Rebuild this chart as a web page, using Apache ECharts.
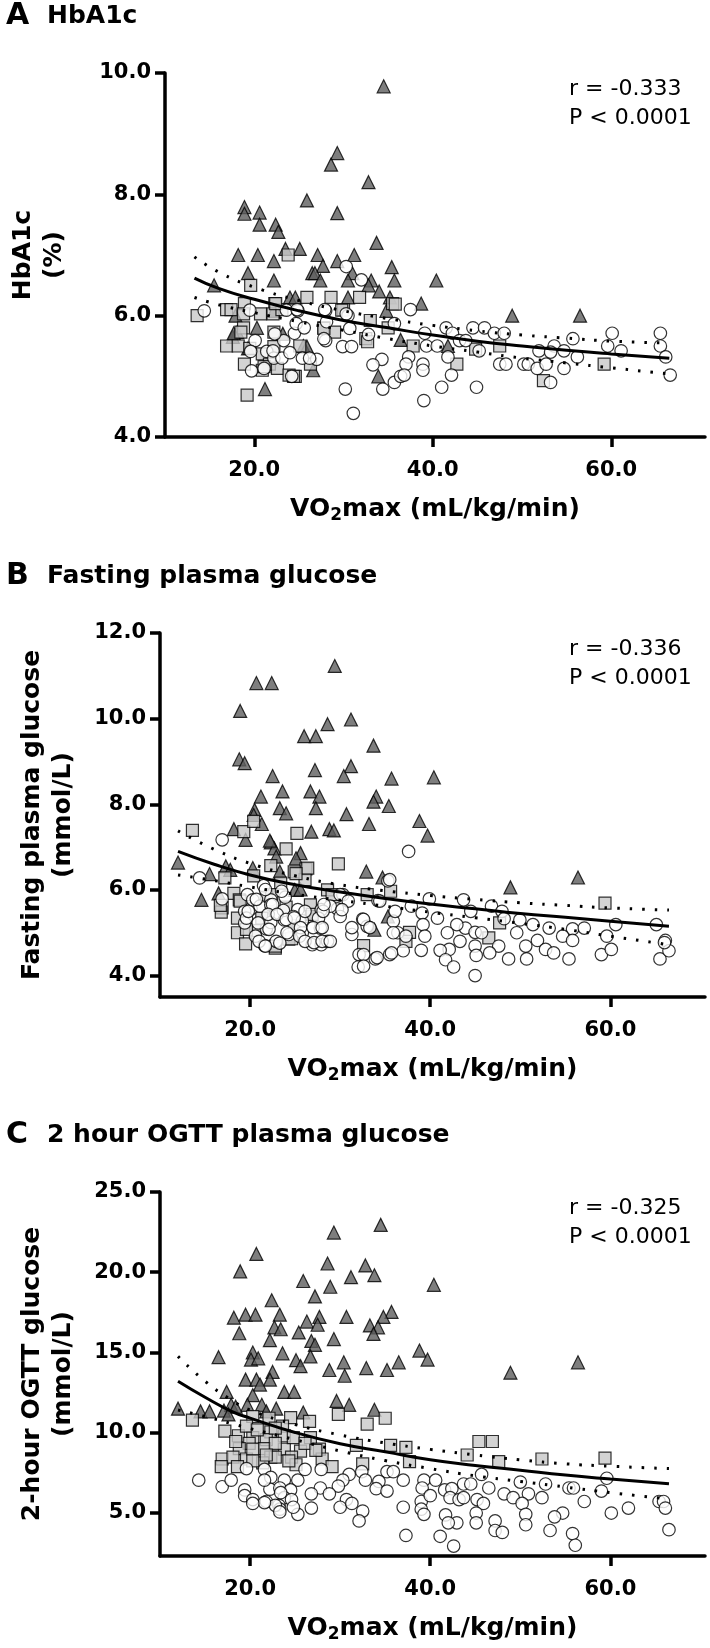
<!DOCTYPE html>
<html><head><meta charset="utf-8">
<script src="https://cdn.jsdelivr.net/npm/echarts@6/dist/echarts.min.js"></script>
<style>html,body{margin:0;padding:0;background:#fff}#c{width:710px;height:1648px}</style>
</head><body><div id="c"></div>
<script>
// ---------- Panel A: HbA1c ----------
const triA = [[34.5,9.78],[29.3,8.68],[28.6,8.49],[32.8,8.2],[25.9,7.9],[18.9,7.79],[18.9,7.68],[20.6,7.7],[20.6,7.5],[22.4,7.5],[22.7,7.38],[29.3,7.69],[33.7,7.2],[18.2,7.0],[20.4,7.0],[23.5,7.1],[25.1,7.1],[27.1,7.0],[31.2,7.0],[22.2,6.9],[29.3,6.9],[27.7,6.82],[35.4,6.8],[19.3,6.7],[26.5,6.7],[26.8,6.7],[31.0,6.7],[22.2,6.58],[27.4,6.58],[30.5,6.58],[33.1,6.58],[35.7,6.58],[40.4,6.58],[15.5,6.5],[32.8,6.5],[34.0,6.4],[24.0,6.3],[24.6,6.3],[30.5,6.3],[35.2,6.3],[38.7,6.2],[22.2,6.08],[34.8,6.08],[48.9,6.0],[56.5,6.0],[17.9,6.0],[18.1,5.73],[20.3,5.8],[17.6,5.65],[23.2,5.7],[36.4,5.6],[41.7,5.5],[25.5,5.5],[19.3,5.46],[26.6,5.1],[21.2,4.79],[33.9,5.0],[25.9,5.49],[17.7,5.71]];
const sqA = [[23.8,7.0],[19.6,6.5],[25.9,6.3],[28.6,6.3],[31.8,6.3],[18.9,6.2],[22.3,6.2],[35.5,6.2],[13.6,6.0],[16.9,6.1],[17.4,6.1],[18.8,6.03],[20.7,6.03],[22.1,6.03],[23.1,6.1],[30.0,6.1],[18.8,5.8],[18.5,5.73],[33.0,5.92],[35.0,5.8],[27.8,5.8],[29.0,5.73],[22.2,5.73],[16.9,5.5],[18.2,5.5],[19.5,5.46],[20.9,5.37],[25.1,5.5],[32.5,5.62],[37.8,5.5],[47.5,5.5],[44.8,5.45],[18.9,5.2],[21.7,5.2],[22.6,5.13],[26.3,5.2],[42.7,5.2],[59.2,5.2],[24.6,5.0],[52.4,4.93],[19.2,4.69],[20.9,5.1],[23.9,5.02],[22.4,6.2],[29.8,6.09],[35.8,6.19],[27.8,5.79],[32.7,5.57],[22.2,5.49],[24.4,5.0],[21.1,5.16]];
const circA = [[14.4,6.08],[19.5,6.09],[20.1,5.59],[19.6,5.41],[19.7,5.09],[21.4,5.41],[22.2,5.3],[23.1,5.3],[23.3,5.59],[22.3,5.7],[24.0,5.39],[24.5,5.71],[24.7,5.87],[25.6,5.8],[23.6,6.09],[24.9,6.08],[25.4,5.3],[27.0,5.28],[28.0,6.08],[28.1,5.9],[28.0,5.59],[29.9,5.49],[30.9,5.49],[30.7,5.79],[30.5,6.0],[30.3,6.81],[32.0,6.59],[32.8,5.69],[34.3,5.28],[33.3,5.19],[34.4,4.79],[35.7,5.87],[30.2,4.79],[24.2,5.0],[26.2,5.3],[35.7,4.9],[36.4,5.0],[37.5,6.1],[41.5,5.8],[44.5,5.8],[45.8,5.8],[39.1,5.71],[42.2,5.71],[46.9,5.71],[48.0,5.71],[60.1,5.71],[65.5,5.71],[55.7,5.62],[43.0,5.59],[43.7,5.59],[53.6,5.5],[59.6,5.5],[65.5,5.5],[39.3,5.5],[40.5,5.5],[45.2,5.42],[51.9,5.42],[54.7,5.42],[61.1,5.42],[41.7,5.32],[53.2,5.4],[56.2,5.32],[66.1,5.32],[37.3,5.32],[47.5,5.2],[48.2,5.2],[50.2,5.2],[50.7,5.2],[51.7,5.13],[52.7,5.2],[54.7,5.13],[37.0,5.2],[38.9,5.2],[38.9,5.1],[42.1,5.02],[36.8,5.02],[53.2,4.9],[66.6,5.02],[41.0,4.82],[44.9,4.82],[39.0,4.6],[31.1,4.39],[21.1,5.13],[22.1,5.42],[27.8,5.62],[27.9,6.1],[24.8,6.1],[30.3,6.03]];
const fitA = [[13.3,6.62],[16,6.45],[20,6.27],[25,6.08],[30,5.92],[35,5.8],[40,5.68],[45,5.58],[50,5.5],[55,5.43],[60,5.37],[66.5,5.3]];
const upA = [[13.3,6.97],[16,6.72],[20,6.47],[25,6.25],[30,6.08],[35,5.95],[40,5.84],[45,5.75],[50,5.68],[55,5.63],[60,5.58],[66.5,5.55]];
const loA = [[13.3,6.3],[16,6.18],[20,6.05],[25,5.9],[30,5.76],[35,5.62],[40,5.5],[45,5.4],[50,5.3],[55,5.22],[60,5.14],[66.5,5.04]];

// ---------- Panel B: Fasting plasma glucose ----------
const triB = [[29.4,11.23],[20.7,10.83],[22.4,10.83],[18.9,10.18],[31.2,9.98],[28.6,9.87],[26.0,9.59],[27.3,9.59],[33.7,9.37],[18.8,9.05],[19.4,8.96],[31.2,8.89],[27.2,8.8],[30.4,8.66],[22.5,8.66],[35.7,8.6],[40.4,8.63],[21.2,8.18],[23.6,8.3],[26.7,8.3],[27.7,8.18],[34.0,8.18],[33.7,8.06],[35.4,7.96],[27.3,7.91],[23.3,7.91],[20.5,7.87],[24.0,7.79],[20.4,7.75],[30.7,7.77],[38.8,7.61],[21.3,7.54],[18.2,7.42],[28.8,7.42],[29.3,7.39],[26.8,7.36],[33.2,7.54],[39.7,7.27],[19.5,7.17],[22.3,7.11],[22.7,6.97],[22.2,7.15],[25.6,6.86],[22.9,6.78],[25.1,6.74],[12.0,6.64],[17.3,6.55],[20.3,6.51],[23.3,6.43],[32.9,6.43],[15.5,6.37],[17.8,6.47],[34.7,6.29],[56.4,6.29],[48.9,6.06],[16.5,5.92],[14.6,5.77],[35.3,5.38],[33.8,5.07],[24.97,6.0],[25.6,6.01]];
const sqB = [[13.6,7.39],[19.3,7.36],[20.4,7.6],[25.2,7.32],[24.0,6.96],[29.8,6.61],[22.3,6.57],[26.2,6.49],[24.9,6.42],[17.2,6.28],[20.4,6.33],[26.1,6.24],[23.4,6.16],[28.6,6.0],[35.6,5.97],[33.0,5.89],[29.1,5.89],[18.2,5.92],[59.4,5.69],[18.8,5.77],[21.8,5.85],[26.7,5.65],[16.9,5.58],[16.8,5.48],[24.0,5.6],[18.6,5.34],[21.3,5.34],[26.8,5.38],[47.7,5.23],[20.6,5.05],[18.6,5.0],[24.9,5.17],[37.7,5.01],[24.3,4.85],[19.5,4.74],[32.6,4.7],[22.8,4.64],[46.5,4.88],[37.3,4.8],[26.4,6.51],[25.1,6.38],[18.9,5.74],[22.4,5.89],[16.7,5.64],[26.9,5.43],[19.6,5.08],[24.6,4.86],[22.8,4.69]];
const circB = [[16.9,7.17],[37.6,6.9],[14.4,6.28],[35.3,6.21],[21.5,6.1],[16.9,5.79],[19.7,5.89],[23.9,5.83],[22.3,5.77],[39.9,5.79],[43.7,5.77],[30.3,5.89],[34.2,5.75],[37.9,5.62],[46.8,5.62],[20.1,5.56],[25.3,5.54],[27.9,5.54],[29.7,5.56],[44.5,5.5],[47.96,5.5],[39.1,5.46],[19.4,5.5],[22.8,5.46],[30.0,5.38],[23.8,5.3],[40.8,5.34],[49.95,5.3],[48.2,5.33],[51.4,5.19],[35.9,5.27],[19.4,5.23],[60.6,5.19],[65.1,5.19],[21.8,5.09],[27.8,5.11],[32.5,5.32],[55.8,5.09],[57.1,5.11],[53.2,5.11],[43.9,5.11],[42.95,5.19],[33.0,5.15],[39.2,5.19],[49.6,5.0],[44.98,5.01],[45.7,5.0],[31.3,4.96],[41.9,5.0],[25.8,5.0],[36.4,5.0],[54.7,4.92],[59.6,4.92],[66.1,4.82],[55.8,4.82],[51.9,4.82],[43.3,4.8],[37.3,4.92],[39.4,4.92],[22.9,4.8],[21.6,4.7],[23.3,4.76],[26.9,4.72],[27.9,4.72],[28.6,4.8],[44.98,4.69],[47.6,4.69],[50.6,4.69],[52.8,4.61],[53.7,4.53],[42.1,4.61],[46.6,4.53],[59.0,4.49],[60.1,4.61],[50.7,4.39],[55.4,4.39],[48.7,4.39],[45.1,4.47],[35.5,4.49],[37.0,4.58],[39.0,4.59],[33.9,4.39],[32.1,4.49],[32.0,4.2],[41.1,4.59],[41.7,4.37],[42.6,4.2],[44.98,4.0],[65.5,4.39],[66.5,4.58],[66.0,4.77],[20.3,5.77],[21.1,5.62],[22.3,5.65],[23.7,5.52],[24.8,5.38],[25.8,5.28],[27.6,5.34],[28.9,5.62],[20.6,4.92],[24.3,4.96],[22.3,5.24],[19.6,5.34],[20.7,5.78],[21.7,6.01],[23.5,5.97],[22.5,5.66],[19.8,5.5],[22.0,5.43],[20.9,5.23],[23.0,5.43],[24.0,5.31],[24.9,5.35],[26.1,5.5],[28.1,5.5],[28.2,5.66],[25.6,5.12],[27.0,5.12],[28.0,5.12],[22.1,5.08],[24.1,5.0],[25.5,4.92],[26.1,4.8],[21.0,4.8],[21.7,4.69],[27.1,4.77],[28.0,4.8],[28.9,4.8],[30.0,5.89],[30.9,5.74],[30.2,5.54],[31.3,5.12],[32.6,5.31],[33.3,5.12],[32.6,4.49],[32.6,4.22],[34.1,4.42],[35.7,4.53],[35.9,5.0],[34.4,5.74],[35.5,6.24],[36.1,5.5]];
const fitB = [[12,6.9],[16,6.6],[20,6.35],[25,6.12],[30,5.95],[35,5.8],[40,5.67],[45,5.56],[50,5.45],[55,5.36],[60,5.27],[66.5,5.15]];
const upB = [[12,7.38],[16,6.95],[20,6.62],[25,6.33],[30,6.12],[35,5.98],[40,5.87],[45,5.78],[50,5.7],[55,5.64],[60,5.58],[66.5,5.53]];
const loB = [[12,6.35],[16,6.22],[20,6.07],[25,5.9],[30,5.76],[35,5.62],[40,5.48],[45,5.35],[50,5.22],[55,5.08],[60,4.92],[66.5,4.72]];

// ---------- Panel C: 2 hour OGTT plasma glucose ----------
const triC = [[34.5,22.95],[29.3,22.47],[20.7,21.14],[32.8,20.42],[28.6,20.54],[18.9,20.05],[31.2,19.69],[33.8,19.81],[40.4,19.21],[25.9,19.45],[28.9,19.09],[27.2,18.49],[22.4,18.25],[18.2,17.16],[19.5,17.35],[20.6,17.35],[23.3,17.35],[26.3,16.92],[27.7,17.21],[30.7,17.21],[35.7,17.52],[34.8,17.21],[27.5,16.72],[33.3,16.68],[34.2,16.56],[18.8,16.19],[22.7,16.56],[23.4,16.44],[25.4,16.24],[33.7,16.15],[22.2,15.76],[29.3,15.83],[26.8,15.71],[27.2,15.47],[16.5,14.7],[20.3,14.99],[23.6,14.94],[25.1,14.51],[25.6,14.14],[30.4,14.38],[26.7,14.75],[36.5,14.38],[38.8,15.11],[39.7,14.55],[20.1,14.55],[20.9,14.63],[56.4,14.38],[35.2,13.9],[32.9,14.02],[22.5,13.78],[28.8,13.9],[30.5,13.54],[48.9,13.73],[19.5,13.3],[20.7,13.3],[22.2,13.3],[21.1,12.99],[17.4,12.53],[23.8,12.53],[24.9,12.53],[20.3,12.33],[29.6,11.97],[19.7,11.73],[21.3,11.73],[31.0,11.73],[17.9,11.73],[12.0,11.49],[14.5,11.32],[15.5,11.32],[17.1,11.37],[18.4,11.61],[22.9,11.49],[33.8,11.42],[25.9,11.25],[17.6,11.13],[21.8,11.32]];
const sqC = [[13.6,10.77],[29.8,11.13],[35.0,10.89],[20.3,11.0],[22.1,10.89],[24.5,10.93],[26.6,10.69],[33.0,10.52],[23.6,10.4],[17.2,10.09],[22.3,10.04],[23.8,9.8],[26.7,9.68],[18.7,9.8],[20.3,9.68],[19.9,9.32],[21.8,9.56],[45.4,9.44],[46.9,9.44],[31.8,9.2],[35.6,9.2],[37.3,9.08],[18.8,9.0],[21.6,9.0],[23.8,8.96],[25.6,8.84],[27.7,8.96],[44.1,8.6],[52.4,8.35],[59.4,8.4],[37.7,8.18],[32.5,8.04],[28.0,8.35],[16.9,8.35],[18.1,8.47],[19.6,8.35],[22.3,8.47],[24.6,8.47],[47.6,8.18],[16.8,7.87],[18.6,7.87],[21.4,8.11],[25.1,7.99],[29.1,7.87],[20.3,8.96],[22.8,9.32],[18.4,9.44],[19.6,10.4],[20.8,10.16],[22.8,10.28],[24.8,9.68],[26.1,9.32],[27.3,8.89],[22.8,8.47],[24.3,8.23],[20.3,8.23],[21.8,8.6]];
const circC = [[14.3,7.03],[16.9,6.62],[19.6,7.75],[21.6,7.7],[26.1,7.7],[27.9,7.7],[31.0,7.39],[32.4,7.56],[35.2,7.56],[35.9,7.56],[37.0,7.03],[59.6,7.15],[45.7,7.39],[39.3,7.03],[40.6,7.03],[43.7,6.79],[44.5,6.79],[46.5,6.54],[50.0,6.91],[52.8,6.79],[30.3,7.03],[22.3,7.2],[23.8,7.03],[25.3,7.03],[32.8,7.03],[34.3,6.95],[17.9,7.03],[19.4,6.42],[22.2,6.47],[23.3,6.54],[24.5,6.42],[27.8,6.54],[29.8,6.66],[34.0,6.5],[35.2,6.35],[39.1,6.54],[41.6,6.42],[42.4,6.5],[55.4,6.54],[55.9,6.54],[59.0,6.35],[48.2,6.18],[49.2,5.94],[50.9,6.18],[52.4,5.94],[26.8,6.18],[28.8,6.18],[19.4,6.06],[20.3,5.82],[21.8,5.7],[23.8,5.94],[30.7,5.82],[39.0,5.7],[40.0,6.06],[42.2,5.94],[43.2,5.82],[43.7,5.94],[45.2,5.82],[45.9,5.58],[57.1,5.7],[65.4,5.7],[65.9,5.7],[66.1,5.29],[50.2,5.58],[23.2,5.46],[23.3,5.22],[30.0,5.34],[31.3,5.58],[32.5,5.1],[25.3,4.9],[26.8,5.29],[37.0,5.34],[39.0,5.22],[39.3,4.9],[41.7,4.86],[45.1,4.98],[45.1,4.37],[50.6,4.9],[50.6,4.25],[54.7,4.98],[53.8,4.74],[60.1,4.98],[62.0,5.29],[42.95,4.37],[42.0,4.37],[32.1,4.49],[47.2,4.49],[47.2,3.89],[48.0,3.77],[53.3,3.89],[55.8,3.7],[66.5,3.94],[37.3,3.58],[41.1,3.53],[42.6,2.92],[56.1,2.97],[21.6,7.03],[23.4,6.25],[24.6,5.82],[22.8,5.46],[21.6,5.63],[20.3,5.58],[23.3,5.05],[24.8,5.34]];
const fitC = [[12,13.2],[15,12.2],[18,11.3],[20,10.9],[25,10.0],[30,9.3],[35,8.8],[40,8.3],[45,7.95],[50,7.65],[55,7.35],[60,7.1],[66.5,6.8]];
const upC = [[12,14.75],[15,13.2],[18,12.0],[20,11.4],[25,10.5],[30,9.85],[35,9.35],[40,8.95],[45,8.6],[50,8.3],[55,8.05],[60,7.9],[66.5,7.75]];
const loC = [[12,11.4],[15,11.0],[18,10.55],[20,10.25],[25,9.55],[30,8.85],[35,8.25],[40,7.75],[45,7.3],[50,6.95],[55,6.6],[60,6.25],[66.5,5.85]];

// ---------- tick labels / texts ----------
const xTicks = [20, 40, 60];
const yTicksA = [4, 6, 8, 10];
const yTicksB = [4, 6, 8, 10, 12];
const yTicksC = [5, 10, 15, 20, 25];
const letters = ['A', 'B', 'C'];
const titles = ['HbA1c', 'Fasting plasma glucose', '2 hour OGTT plasma glucose'];
const yNames = ['HbA1c\n(%)', 'Fasting plasma glucose\n(mmol/L)', '2-hour OGTT glucose\n(mmol/L)'];
const rTexts = ['r = -0.333', 'r = -0.336', 'r = -0.325'];
const pTexts = ['P < 0.0001', 'P < 0.0001', 'P < 0.0001'];

const FONT = "'DejaVu Sans', Verdana, sans-serif";
const panels = [
  {top: 73, ymin: 4, ymax: 10, yTicks: yTicksA, gap: 95, tri: triA, sq: sqA, circ: circA, fit: fitA, up: upA, lo: loA},
  {top: 633, ymin: 3.5, ymax: 12, yTicks: yTicksB, gap: 81, tri: triB, sq: sqB, circ: circB, fit: fitB, up: upB, lo: loB},
  {top: 1192, ymin: 2.3, ymax: 25, yTicks: yTicksC, gap: 81, tri: triC, sq: sqC, circ: circC, fit: fitC, up: upC, lo: loC}
];
const H = 364, LEFT = 160, W = 545;

const grid = [], xAxis = [], yAxis = [], series = [], graphic = [];
const axisLineStyle = {color: '#000', width: 3.5};
panels.forEach((p, i) => {
  grid.push({left: LEFT, top: p.top, width: W, height: H});
  xAxis.push({
    gridIndex: i, type: 'value', min: 10, max: 70.5,
    axisLine: {show: true, onZero: false, lineStyle: axisLineStyle},
    axisTick: {show: true, length: 10, customValues: xTicks, lineStyle: axisLineStyle},
    axisLabel: {customValues: xTicks, formatter: v => v.toFixed(1), fontSize: 21, fontWeight: 'bold', fontFamily: FONT, color: '#000', margin: 23},
    splitLine: {show: false},
    name: '{a|VO}{s|2}{a|max (mL/kg/min)}', nameLocation: 'middle', nameGap: 57,
    nameTextStyle: {rich: {
      a: {fontSize: 25, fontWeight: 'bold', fontFamily: FONT, color: '#000', lineHeight: 30},
      s: {fontSize: 17, fontWeight: 'bold', fontFamily: FONT, color: '#000', lineHeight: 16, verticalAlign: 'bottom'}
    }}
  });
  yAxis.push({
    gridIndex: i, type: 'value', min: p.ymin, max: p.ymax,
    axisLine: {show: true, onZero: false, lineStyle: axisLineStyle},
    axisTick: {show: true, length: 10, customValues: p.yTicks, lineStyle: axisLineStyle},
    axisLabel: {customValues: p.yTicks, formatter: v => v.toFixed(1), fontSize: 21, fontWeight: 'bold', fontFamily: FONT, color: '#000', margin: 14},
    splitLine: {show: false},
    name: yNames[i], nameLocation: 'middle', nameGap: p.gap,
    nameTextStyle: {fontSize: 25, fontWeight: 'bold', fontFamily: FONT, color: '#000', lineHeight: 31}
  });
  const mk = {borderColor: '#000', borderWidth: 1.2};
  series.push({type: 'scatter', xAxisIndex: i, yAxisIndex: i, data: p.tri, symbol: 'triangle', symbolSize: 13,
    itemStyle: Object.assign({color: '#5e5e5e'}, mk), z: 2});
  series.push({type: 'scatter', xAxisIndex: i, yAxisIndex: i, data: p.sq, symbol: 'rect', symbolSize: 12,
    itemStyle: Object.assign({color: '#c8c8c8'}, mk), z: 3});
  series.push({type: 'scatter', xAxisIndex: i, yAxisIndex: i, data: p.circ, symbol: 'circle', symbolSize: 12.5,
    itemStyle: Object.assign({color: '#ffffff'}, mk), z: 4});
  series.push({type: 'line', xAxisIndex: i, yAxisIndex: i, data: p.fit, smooth: true, symbol: 'none',
    lineStyle: {color: '#000', width: 3}, z: 6, silent: true});
  [p.up, p.lo].forEach(d => series.push({type: 'line', xAxisIndex: i, yAxisIndex: i, data: d, smooth: true, symbol: 'none',
    lineStyle: {color: '#000', width: 3, type: [2.5, 10]}, z: 6, silent: true}));

  const titleY = p.top - 55;
  graphic.push({type: 'text', left: 6, top: titleY - 17, style: {text: letters[i], fontSize: 30, fontWeight: 'bold', fontFamily: FONT, fill: '#000'}});
  graphic.push({type: 'text', left: 47, top: titleY - 14, style: {text: titles[i], fontSize: 25, fontWeight: 'bold', fontFamily: FONT, fill: '#000'}});
  graphic.push({type: 'text', left: 569, top: p.top + 5, style: {text: rTexts[i], fontSize: 22, fontFamily: FONT, fill: '#000'}});
  graphic.push({type: 'text', left: 569, top: p.top + 34, style: {text: pTexts[i], fontSize: 22, fontFamily: FONT, fill: '#000'}});
});

const chart = echarts.init(document.getElementById('c'), null, {renderer: 'canvas'});
chart.setOption({animation: false, backgroundColor: '#fff', grid, xAxis, yAxis, series, graphic});
</script></body></html>
